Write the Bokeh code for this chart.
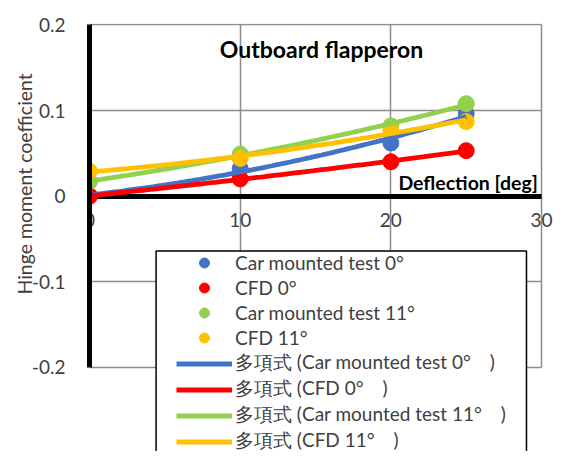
import numpy as np
from bokeh.plotting import figure
from bokeh.models import (Range1d, FixedTicker, Label, Legend, LegendItem, BoxAnnotation,
                          LinearAxis, Grid)
from bokeh.embed import file_html
from bokeh.resources import INLINE

deflection = [0, 10, 20, 25]
car_0 = [0.0, 0.032, 0.062, 0.096]
cfd_0 = [0.0, 0.020, 0.040, 0.053]
car_11 = [0.017, 0.049, 0.082, 0.108]
cfd_11 = [0.029, 0.044, 0.077, 0.087]

series_names = ["Car mounted test 0°", "CFD 0°", "Car mounted test 11°", "CFD 11°"]
trend_names = ["多項式 (Car mounted test 0°\u3000)", "多項式 (CFD 0°\u3000)",
               "多項式 (Car mounted test 11°\u3000)", "多項式 (CFD 11°\u3000)"]
colors = ["#4472C4", "#FF0000", "#92D050", "#FFC000"]
x_ticks = [0, 10, 20, 30]
y_ticks = [-0.2, -0.1, 0, 0.1, 0.2]
title_text = "Outboard flapperon"
x_title = "Deflection [deg]"
y_title = "Hinge moment coefficient"

FONT = "Lato"
TXT = "#404040"
GRID = "#8c8c8c"

# frame reaches the right and bottom edges so the legend and the "30" label are not cut
p = figure(width=562, height=451, x_range=Range1d(0, 31.39), y_range=Range1d(-0.2988, 0.20175),
           output_backend="svg", toolbar_location=None,
           x_axis_location=None, y_axis_location=None,
           min_border_left=89, min_border_right=0, min_border_top=23, min_border_bottom=0)
p.background_fill_color = "white"
p.border_fill_color = "white"
p.outline_line_color = None
p.center = [r for r in p.center if not isinstance(r, Grid)]

x0, x1 = x_ticks[0], x_ticks[-1]
y0, y1 = y_ticks[0], y_ticks[-1]


def guide_line(loc, bounds, side):
    ax = LinearAxis(fixed_location=loc, bounds=bounds, ticker=FixedTicker(ticks=[]),
                    axis_line_color=GRID, axis_line_width=1.5,
                    major_tick_line_color=None, minor_tick_line_color=None,
                    major_label_text_font_size="0px", level="image")
    p.add_layout(ax, side)


# horizontal grid lines (0 is the black axis)
for t in y_ticks:
    if t != 0:
        guide_line(t, (x0, x1), "above")
# vertical grid lines (0 is the black axis)
for t in x_ticks[1:]:
    guide_line(t, (y0, y1), "right")

# black x axis through y = 0
xa = LinearAxis(fixed_location=0, bounds=(x0, x1), ticker=FixedTicker(ticks=x_ticks), level="underlay")
xa.axis_line_color = "black"
xa.axis_line_width = 5
xa.major_tick_line_color = None
xa.minor_tick_line_color = None
xa.major_label_standoff = -37
xa.major_label_text_font = FONT
xa.major_label_text_font_size = "19px"
xa.major_label_text_color = TXT
p.add_layout(xa, "above")

# black y axis (label padded at its start so it sits centred on the -0.2..0.2 span)
ya = LinearAxis(bounds=(y0, y1), ticker=FixedTicker(ticks=y_ticks))
ya.major_label_overrides = {-0.2: "-0.2", -0.1: "-0.1", 0: "0", 0.1: "0.1", 0.2: "0.2"}
ya.axis_line_color = "black"
ya.axis_line_width = 5
ya.major_tick_line_color = None
ya.minor_tick_line_color = None
ya.major_label_standoff = 18
ya.major_label_text_font = FONT
ya.major_label_text_font_size = "19px"
ya.major_label_text_color = TXT
ya.axis_label = "\u2002" * 11 + y_title
ya.axis_label_standoff = -7
ya.axis_label_text_font = FONT
ya.axis_label_text_font_style = "normal"
ya.axis_label_text_font_size = "19.5px"
ya.axis_label_text_color = TXT
p.add_layout(ya, "left")

data = [car_0, cfd_0, car_11, cfd_11]
marker_r = []
for ys, c in zip(data, colors):
    marker_r.append(p.scatter(deflection, ys, size=16, color=c, line_color=c))

line_r = []
xs_fit = np.linspace(min(deflection), max(deflection), 100)
for ys, c in zip(data, colors):
    coef = np.polyfit(deflection, ys, 2)
    line_r.append(p.line(xs_fit, np.polyval(coef, xs_fit), line_width=4.8, color=c))

box = BoxAnnotation(left=4.42, right=29.0, top=-0.0643, bottom=-0.6,
                    fill_color="white", fill_alpha=1.0, line_color="black", line_alpha=1.0,
                    line_width=1.5, level="underlay")
p.add_layout(box)

items = [LegendItem(label=n, renderers=[r]) for n, r in zip(series_names, marker_r)]
items += [LegendItem(label=n, renderers=[r]) for n, r in zip(trend_names, line_r)]
legend = Legend(items=items, location=(87, -3), padding=0, margin=0, spacing=0,
                label_height=25, glyph_height=25, glyph_width=56, label_standoff=3,
                label_text_font=FONT, label_text_font_size="19px", label_text_color=TXT,
                border_line_color=None, background_fill_alpha=0.0,
                level="underlay")
p.add_layout(legend)

p.add_layout(Label(x=15.4, y=0.172, text=title_text, text_align="center", text_baseline="middle",
                   text_font=FONT, text_font_style="bold", text_font_size="23px", text_color="black"))
p.add_layout(Label(x=29.76, y=0.0157, text=x_title, text_align="right", text_baseline="middle",
                   text_font=FONT, text_font_style="bold", text_font_size="19.5px", text_color="black"))

open("out.html", "w").write(file_html(p, INLINE))
